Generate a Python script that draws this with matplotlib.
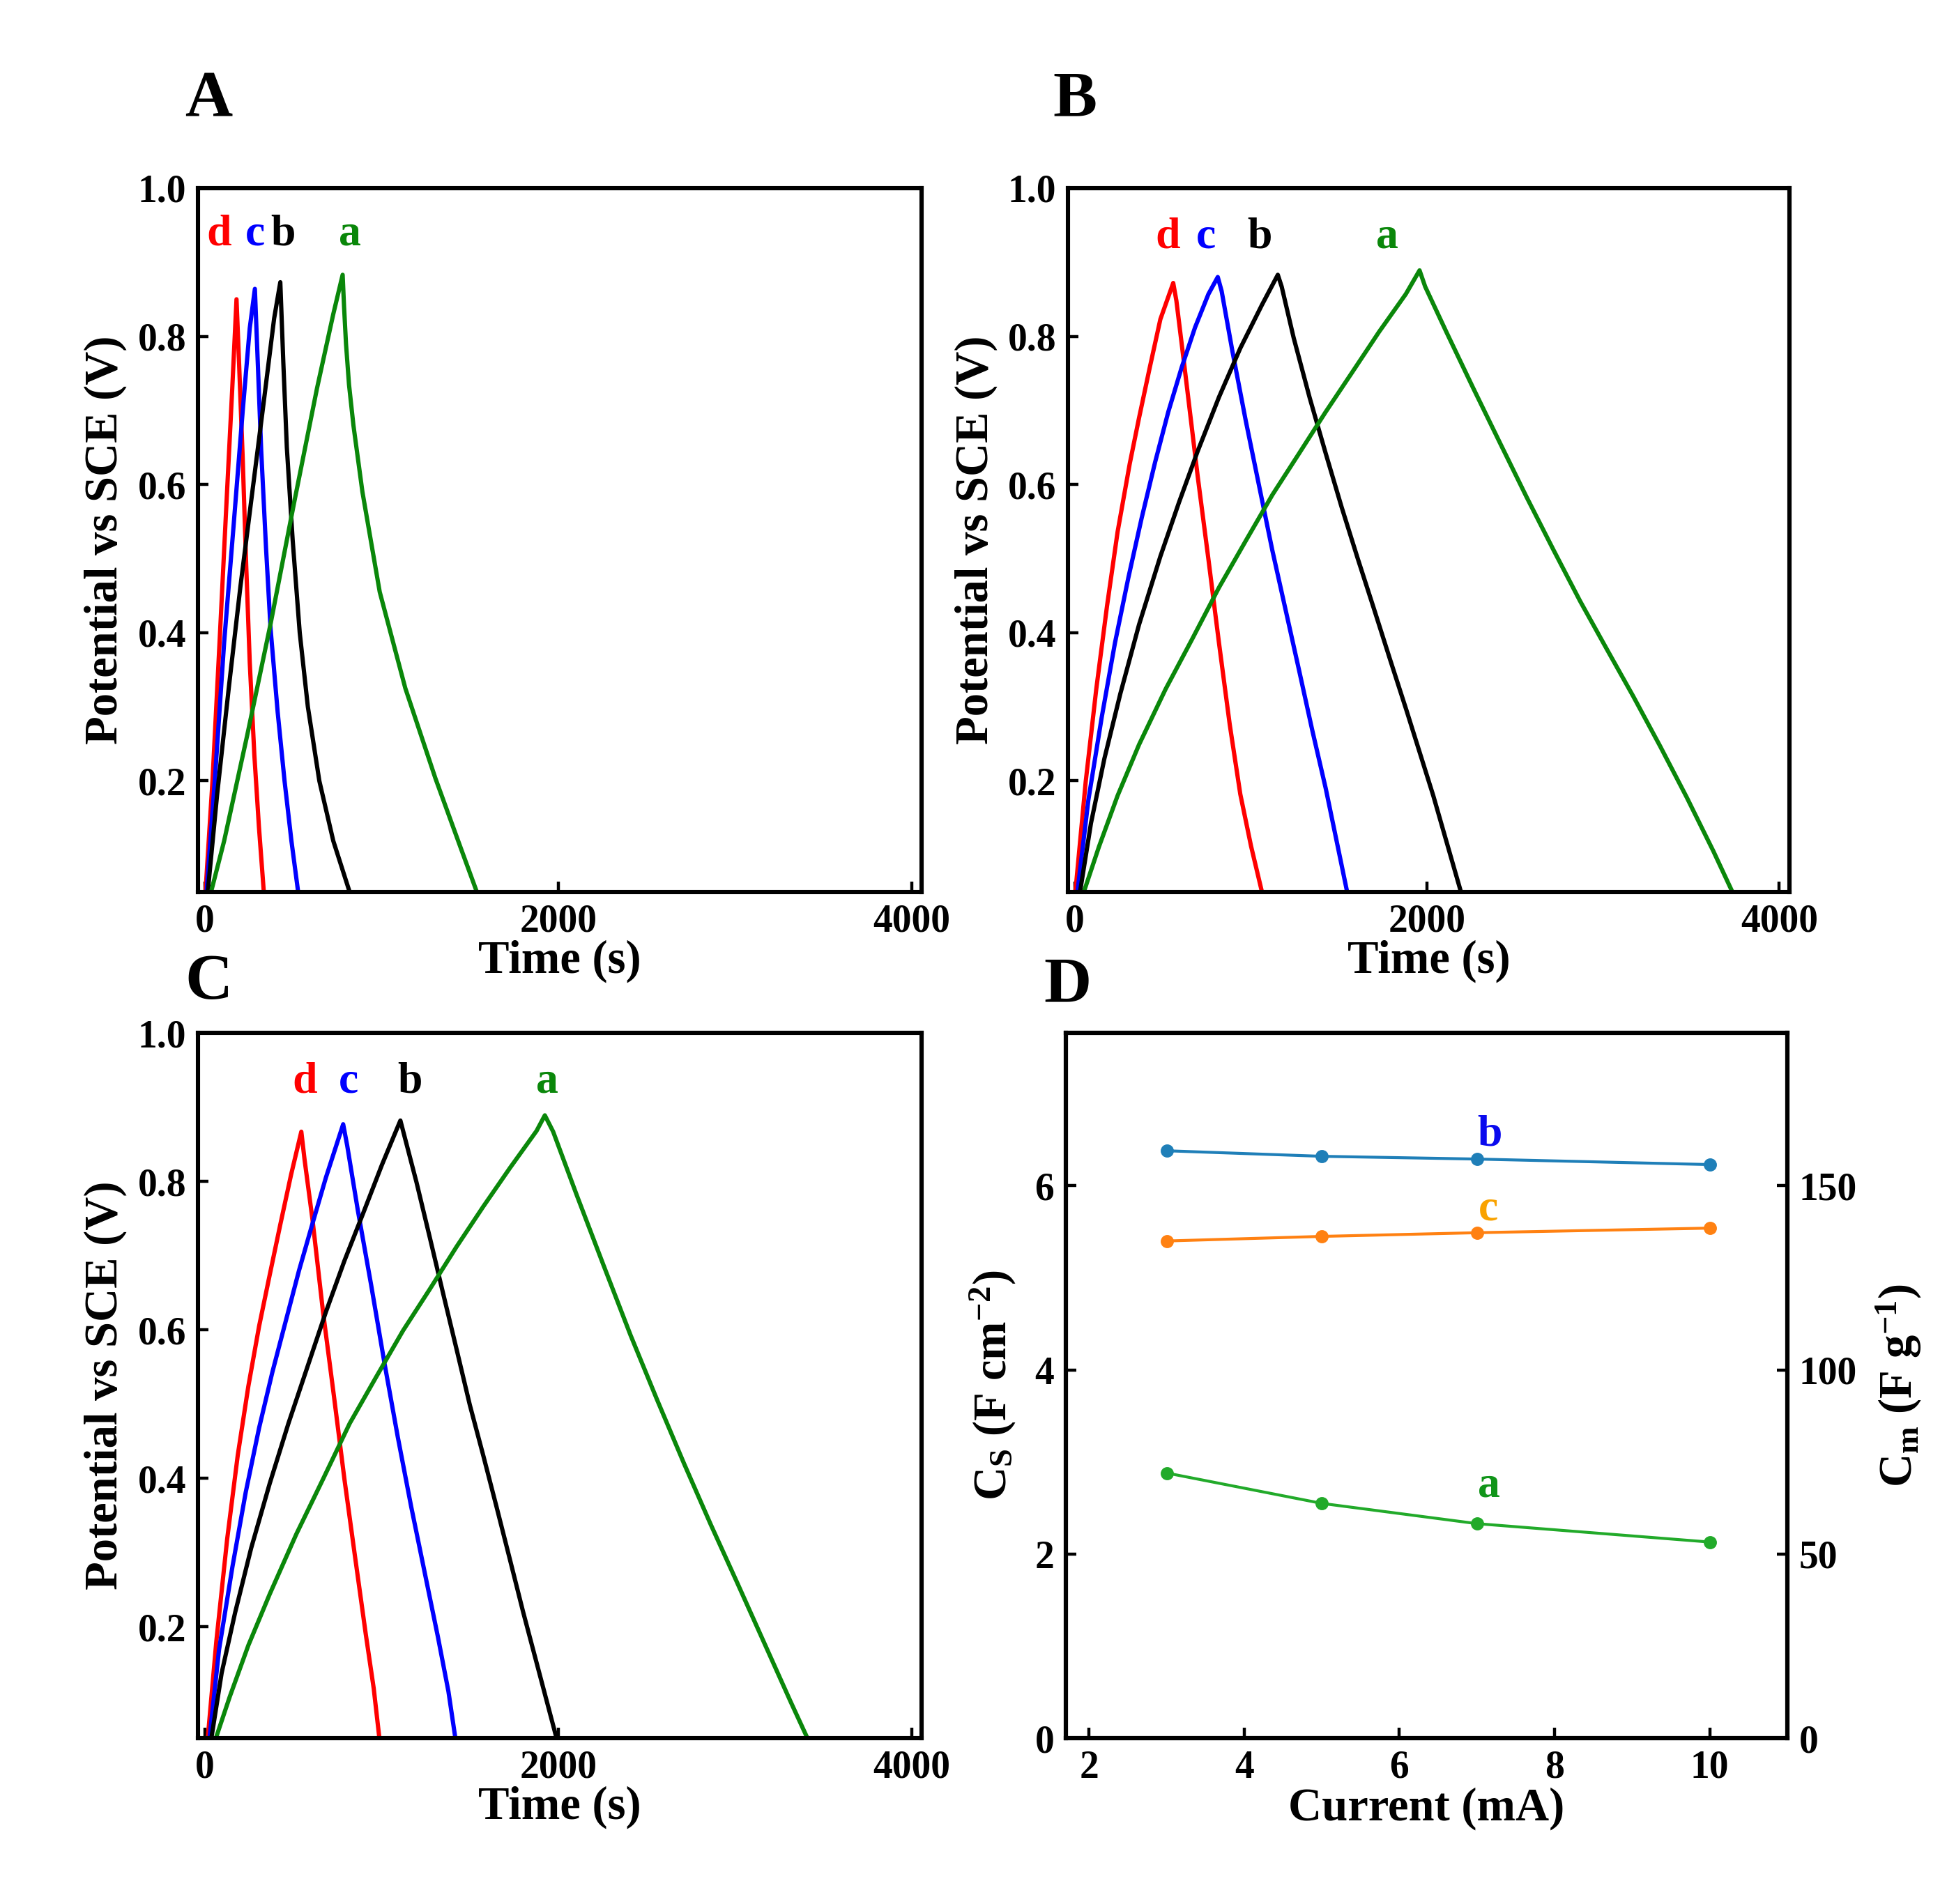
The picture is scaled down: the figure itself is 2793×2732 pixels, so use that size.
import matplotlib
matplotlib.use('Agg')
import matplotlib.pyplot as plt

# ---------------- data ----------------
# Panel A (time s, potential V)
A_t_d = [3, 42, 82, 121, 154, 178, 193, 213, 233, 253, 279, 305, 332]
A_v_d = [0.052, 0.200, 0.387, 0.574, 0.730, 0.850, 0.761, 0.636, 0.490, 0.360, 0.235, 0.138, 0.052]
A_t_c = [9, 55, 108, 161, 213, 253, 282, 299, 318, 345, 371, 411, 450, 489, 526]
A_v_c = [0.052, 0.200, 0.387, 0.543, 0.699, 0.811, 0.864, 0.761, 0.645, 0.515, 0.405, 0.293, 0.200, 0.119, 0.052]
A_t_b = [16, 68, 134, 200, 266, 332, 391, 426, 443, 463, 496, 536, 582, 647, 726, 816]
A_v_b = [0.052, 0.181, 0.325, 0.462, 0.587, 0.711, 0.824, 0.873, 0.765, 0.650, 0.525, 0.400, 0.300, 0.200, 0.119, 0.052]
A_t_a = [36, 108, 239, 371, 503, 634, 726, 779, 787, 798, 815, 840, 891, 989, 1134, 1305, 1450, 1536]
A_v_a = [0.052, 0.119, 0.262, 0.412, 0.574, 0.730, 0.830, 0.883, 0.840, 0.790, 0.735, 0.680, 0.590, 0.455, 0.325, 0.203, 0.108, 0.052]

# Panel B
B_t_d = [3, 61, 121, 182, 242, 311, 364, 424, 485, 558, 576, 621, 697, 758, 818, 879, 939, 1000, 1061]
B_v_d = [0.052, 0.199, 0.324, 0.436, 0.536, 0.628, 0.690, 0.757, 0.823, 0.872, 0.848, 0.761, 0.611, 0.499, 0.386, 0.276, 0.182, 0.112, 0.051]
B_t_c = [15, 76, 152, 227, 303, 379, 455, 530, 606, 682, 758, 811, 833, 894, 970, 1045, 1121, 1197, 1273, 1348, 1424, 1485, 1545]
B_v_c = [0.052, 0.174, 0.286, 0.386, 0.474, 0.555, 0.630, 0.698, 0.758, 0.812, 0.857, 0.880, 0.861, 0.780, 0.686, 0.599, 0.511, 0.430, 0.349, 0.268, 0.190, 0.120, 0.051]
B_t_b = [30, 91, 167, 258, 364, 485, 591, 697, 818, 939, 1061, 1152, 1174, 1242, 1333, 1424, 1515, 1606, 1697, 1788, 1883, 2035, 2191]
B_v_b = [0.052, 0.143, 0.230, 0.318, 0.411, 0.503, 0.576, 0.645, 0.718, 0.784, 0.842, 0.883, 0.867, 0.798, 0.717, 0.642, 0.569, 0.500, 0.433, 0.365, 0.295, 0.180, 0.051]
B_t_a = [53, 136, 242, 364, 515, 667, 818, 970, 1121, 1273, 1424, 1576, 1727, 1879, 1957, 1989, 2111, 2262, 2414, 2565, 2717, 2868, 3020, 3171, 3323, 3474, 3626, 3732]
B_v_a = [0.052, 0.111, 0.180, 0.249, 0.324, 0.392, 0.461, 0.524, 0.586, 0.642, 0.698, 0.752, 0.806, 0.857, 0.889, 0.867, 0.805, 0.730, 0.656, 0.583, 0.512, 0.443, 0.378, 0.314, 0.247, 0.178, 0.105, 0.051]

# Panel C
C_t_d = [16, 64, 125, 185, 245, 306, 366, 427, 487, 545, 563, 608, 668, 729, 789, 850, 910, 955, 986]
C_v_d = [0.052, 0.181, 0.318, 0.431, 0.524, 0.605, 0.674, 0.743, 0.809, 0.867, 0.830, 0.749, 0.624, 0.512, 0.399, 0.293, 0.190, 0.117, 0.052]
C_t_c = [26, 79, 155, 230, 306, 381, 457, 532, 608, 684, 752, 782, 805, 865, 940, 1016, 1091, 1167, 1242, 1318, 1378, 1416]
C_v_c = [0.052, 0.169, 0.281, 0.381, 0.468, 0.543, 0.612, 0.680, 0.743, 0.805, 0.855, 0.877, 0.848, 0.761, 0.661, 0.555, 0.456, 0.362, 0.275, 0.187, 0.113, 0.052]
C_t_b = [37, 94, 170, 261, 366, 472, 578, 684, 789, 895, 1001, 1069, 1106, 1129, 1197, 1273, 1348, 1424, 1499, 1575, 1650, 1728, 1801, 1879, 1988]
C_v_b = [0.052, 0.138, 0.219, 0.306, 0.393, 0.474, 0.549, 0.624, 0.693, 0.757, 0.822, 0.861, 0.882, 0.861, 0.799, 0.724, 0.649, 0.574, 0.499, 0.431, 0.362, 0.289, 0.220, 0.150, 0.052]
C_t_a = [64, 140, 245, 366, 517, 668, 819, 970, 1121, 1273, 1424, 1575, 1726, 1877, 1924, 1971, 2107, 2258, 2409, 2561, 2712, 2863, 3014, 3165, 3316, 3407]
C_v_a = [0.052, 0.106, 0.175, 0.244, 0.325, 0.399, 0.474, 0.537, 0.599, 0.655, 0.712, 0.766, 0.818, 0.868, 0.889, 0.867, 0.780, 0.686, 0.593, 0.505, 0.420, 0.338, 0.259, 0.179, 0.099, 0.052]

# Panel D
current = [3, 5, 7, 10]
cs_b = [6.38, 6.32, 6.29, 6.23]
cs_c = [5.40, 5.45, 5.49, 5.54]
cs_a = [2.88, 2.55, 2.33, 2.13]

curve_names = ['d', 'c', 'b', 'a']
curve_colors = {'d': '#ff0000', 'c': '#0000ff', 'b': '#000000', 'a': '#0a870a'}

# ---------------- style ----------------
plt.rcParams.update({
    'font.family': ['Liberation Serif', 'DejaVu Serif'],
    'font.weight': 'bold',
    'axes.labelweight': 'bold',
    'mathtext.fontset': 'custom',
    'mathtext.rm': 'Liberation Serif:bold',
    'mathtext.it': 'Liberation Serif:bold',
    'mathtext.bf': 'Liberation Serif:bold',
    'axes.linewidth': 2.2,
})

fig = plt.figure(figsize=(2793 / 200, 2732 / 200), dpi=200)

TICK_FS = 20
LABEL_FS = 24
CURVE_FS = 23
PANEL_FS = 34


def style_axes(ax):
    ax.tick_params(direction='in', length=5.5, width=1.6, labelsize=TICK_FS, pad=6)
    for lab in ax.get_xticklabels() + ax.get_yticklabels():
        lab.set_fontweight('bold')


def gcd_panel(rect, series, labels_pos):
    ax = fig.add_axes(rect)
    for name in curve_names:
        t, v = series[name]
        ax.plot(t, v, color=curve_colors[name], lw=2.2, solid_joinstyle='round')
    ax.set_xlim(-40, 4058)
    ax.set_ylim(0.05, 1.0)
    ax.set_xticks([0, 2000, 4000])
    ax.set_yticks([0.2, 0.4, 0.6, 0.8, 1.0])
    ax.set_yticklabels(['0.2', '0.4', '0.6', '0.8', '1.0'])
    style_axes(ax)
    ax.set_xlabel('Time (s)', fontsize=LABEL_FS, fontweight='bold', va='top')
    ax.xaxis.set_label_coords(0.5, -0.068)
    ax.set_ylabel('Potential vs SCE (V)', fontsize=LABEL_FS, fontweight='bold')
    ax.yaxis.set_label_coords(-0.098, 0.5)
    for name in curve_names:
        x, y = labels_pos[name]
        ax.text(x, y, name, color=curve_colors[name], fontsize=CURVE_FS,
                fontweight='bold', ha='center', va='center')
    return ax


gcd_panel([0.1017, 0.5315, 0.3717, 0.3697],
          {'d': (A_t_d, A_v_d), 'c': (A_t_c, A_v_c), 'b': (A_t_b, A_v_b), 'a': (A_t_a, A_v_a)},
          {'d': (77, 0.937), 'c': (282, 0.937), 'b': (440, 0.937), 'a': (820, 0.937)})
gcd_panel([0.5485, 0.5315, 0.3706, 0.3697],
          {'d': (B_t_d, B_v_d), 'c': (B_t_c, B_v_c), 'b': (B_t_b, B_v_b), 'a': (B_t_a, B_v_a)},
          {'d': (529, 0.934), 'c': (746, 0.934), 'b': (1049, 0.934), 'a': (1772, 0.934)})
gcd_panel([0.1017, 0.0871, 0.3717, 0.3704],
          {'d': (C_t_d, C_v_d), 'c': (C_t_c, C_v_c), 'b': (C_t_b, C_v_b), 'a': (C_t_a, C_v_a)},
          {'d': (564, 0.934), 'c': (813, 0.934), 'b': (1161, 0.934), 'a': (1939, 0.934)})

# Panel D
axd = fig.add_axes([0.5474, 0.0871, 0.3706, 0.3704])
axd.plot(current, cs_b, color='#1f7fb8', lw=1.5, marker='o', ms=5.8)
axd.plot(current, cs_c, color='#ff8112', lw=1.5, marker='o', ms=5.8)
axd.plot(current, cs_a, color='#22aa2a', lw=1.5, marker='o', ms=5.8)
axd.set_xlim(1.7, 11.0)
axd.set_ylim(0, 7.66)
axd.set_xticks([2, 4, 6, 8, 10])
axd.set_yticks([0, 2, 4, 6])
style_axes(axd)
axd.set_xlabel('Current (mA)', fontsize=LABEL_FS, fontweight='bold', va='top')
axd.xaxis.set_label_coords(0.5, -0.070)
axd.set_ylabel(r'C$_{\mathrm{S}}$ (F cm$^{-2}$)', fontsize=LABEL_FS, fontweight='bold')
axd.yaxis.set_label_coords(-0.067, 0.5)
axd.text(7.16, 6.55, 'b', color='#0a0aee', fontsize=CURVE_FS, fontweight='bold', ha='center', va='center')
axd.text(7.15, 5.74, 'c', color='#f9a200', fontsize=CURVE_FS, fontweight='bold', ha='center', va='center')
axd.text(7.15, 2.74, 'a', color='#11951a', fontsize=CURVE_FS, fontweight='bold', ha='center', va='center')

axr = axd.twinx()
axr.set_ylim(0, 7.66 * 25)
axr.set_yticks([0, 50, 100, 150])
style_axes(axr)
axr.set_ylabel(r'C$_{\mathrm{m}}$ (F g$^{-1}$)', fontsize=LABEL_FS, fontweight='bold')
axr.yaxis.set_label_coords(1.120, 0.5)

# panel letters
fig.text(0.0949, 0.9389, 'A', fontsize=PANEL_FS, fontweight='bold', ha='left', va='baseline')
fig.text(0.5406, 0.9389, 'B', fontsize=PANEL_FS, fontweight='bold', ha='left', va='baseline')
fig.text(0.0949, 0.4755, 'C', fontsize=PANEL_FS, fontweight='bold', ha='left', va='baseline')
fig.text(0.5360, 0.4737, 'D', fontsize=PANEL_FS, fontweight='bold', ha='left', va='baseline')

fig.savefig('out.png', dpi=200, facecolor='white')
